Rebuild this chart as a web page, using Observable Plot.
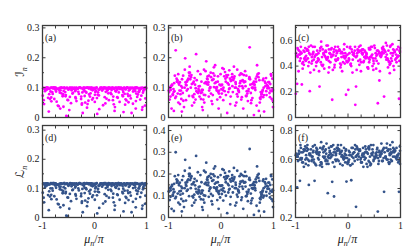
<!DOCTYPE html>
<html><head><meta charset="utf-8">
<script src="https://cdn.jsdelivr.net/npm/d3@7"></script>
<script src="https://cdn.jsdelivr.net/npm/@observablehq/plot@0.6"></script>
<style>
body{margin:0;background:#fff;}
#chart{position:relative;width:415px;height:251px;overflow:hidden;font-family:"Liberation Serif","DejaVu Serif",serif;}
#chart svg{position:absolute;left:0;top:0;overflow:visible;background:transparent;}
#chart svg text{font-family:"Liberation Serif","Times New Roman",serif;}
#chart svg text .script{font-family:"DejaVu Serif","DejaVu Sans",serif;}
</style></head><body><div id="chart"></div>
<script>
// ---- data: mu_n/pi (shared) and I_n (top row), L_n (bottom row) ----
const muN = [-0.988,-0.857,-0.933,-0.812,-0.969,-0.898,-0.841,-0.995,-0.916,-0.879,-0.824,-0.952,-0.863,-0.978,-0.906,-0.804,-0.941,-0.887,-0.832,-0.961,
-0.693,-0.782,-0.637,-0.728,-0.669,-0.756,-0.611,-0.791,-0.705,-0.648,-0.739,-0.682,-0.773,-0.623,-0.717,-0.659,-0.764,-0.602,-0.746,-0.675,
-0.542,-0.429,-0.587,-0.474,-0.511,-0.406,-0.563,-0.452,-0.529,-0.494,-0.597,-0.418,-0.551,-0.463,-0.508,-0.576,-0.441,-0.485,-0.533,-0.414,
-0.266,-0.359,-0.213,-0.392,-0.301,-0.244,-0.337,-0.281,-0.372,-0.226,-0.318,-0.255,-0.385,-0.203,-0.347,-0.289,-0.233,-0.324,-0.366,-0.272,
-0.124,-0.038,-0.179,-0.061,-0.103,-0.196,-0.017,-0.144,-0.082,-0.165,-0.029,-0.112,-0.053,-0.189,-0.071,-0.134,-0.008,-0.156,-0.094,-0.045,
0.153,0.027,0.091,0.184,0.062,0.118,0.006,0.139,0.077,0.196,0.043,0.165,0.103,0.016,0.128,0.052,0.176,0.085,0.034,0.147,
0.231,0.317,0.378,0.264,0.342,0.209,0.293,0.361,0.246,0.329,0.393,0.272,0.217,0.354,0.303,0.239,0.386,0.281,0.324,0.256,
0.568,0.447,0.512,0.403,0.589,0.475,0.536,0.424,0.558,0.491,0.459,0.598,0.413,0.527,0.483,0.572,0.438,0.546,0.502,0.467,
0.687,0.614,0.752,0.661,0.793,0.721,0.636,0.774,0.698,0.607,0.739,0.669,0.784,0.627,0.713,0.762,0.649,0.731,0.678,0.796,
0.849,0.932,0.808,0.971,0.893,0.821,0.956,0.867,0.915,0.987,0.836,0.942,0.879,0.99,0.858,0.924,0.813,0.965,0.901,0.983,
-0.972,-0.846,-0.918,-0.893,-0.958,-0.815,-0.871,-0.934,-0.829,-0.902,
-0.784,-0.652,-0.721,-0.608,-0.757,-0.689,-0.633,-0.742,-0.667,-0.798,
-0.571,-0.437,-0.519,-0.482,-0.593,-0.409,-0.556,-0.468,-0.503,-0.425,
-0.348,-0.229,-0.311,-0.382,-0.258,-0.207,-0.294,-0.363,-0.241,-0.327,
-0.168,-0.087,-0.135,-0.012,-0.191,-0.058,-0.117,-0.034,-0.149,-0.076,
0.021,0.112,0.069,0.158,0.047,0.187,0.094,0.134,0.008,0.171,
0.213,0.336,0.278,0.397,0.249,0.352,0.309,0.226,0.371,0.287,
0.418,0.553,0.486,0.593,0.437,0.521,0.462,0.579,0.404,0.541,
0.628,0.757,0.683,0.611,0.742,0.796,0.654,0.718,0.771,0.639,
0.862,0.939,0.817,0.978,0.884,0.951,0.803,0.917,0.99,0.846];
const panelA = [.098,.062,.099,.085,.045,.097,.1,.073,.094,.02,.099,.088,.096,.058,.1,.079,.092,.099,.067,.097,
.096,.1,.081,.053,.099,.094,.071,.098,.04,.1,.087,.097,.062,.099,.095,.03,.099,.078,.1,.09,
.005,.097,.1,.069,.004,.098,.085,.048,.1,.095,.036,.099,.075,.097,.058,.1,.091,.025,.098,.082,
.099,.064,.1,.096,.079,.043,.098,.1,.088,.015,.097,.07,.099,.093,.055,.1,.084,.096,.068,.099,
.1,.091,.05,.098,.077,.1,.095,.033,.099,.086,.065,.097,.1,.072,.094,.045,.099,.083,.1,.06,
.098,.089,.028,.1,.076,.097,.052,.099,.093,.068,.1,.041,.096,.085,.099,.012,.098,.074,.1,.09,
.063,.099,.095,.081,.1,.047,.097,.07,.099,.092,.035,.1,.086,.058,.098,.096,.022,.1,.078,.094,
.099,.066,.1,.089,.043,.097,.075,.099,.018,.095,.1,.061,.087,.098,.052,.1,.093,.071,.097,.084,
.1,.057,.098,.09,.03,.099,.079,.1,.064,.095,.046,.098,.088,.1,.015,.097,.072,.099,.093,.055,
.098,.083,.1,.04,.096,.069,.099,.091,.026,.1,.077,.097,.06,.099,.086,.035,.098,.094,.073,.1,
.099,.087,.1,.066,.096,.1,.078,.098,.054,.095,.1,.091,.097,.074,.099,.038,.1,.094,.083,.098,
.097,.1,.059,.099,.089,.096,.071,.1,.093,.08,.1,.095,.086,.099,.062,.098,.1,.092,.047,.097,
.099,.07,.1,.094,.088,.099,.056,.097,.1,.081,.096,.1,.084,.098,.065,.1,.093,.099,.076,.095,
.1,.097,.058,.099,.09,.1,.082,.096,.044,.098,.099,.085,.1,.094,.068,.097,.1,.079,.099,.092,
.1,.096,.073,.099,.087,.1,.051,.098,.094,.1,.097,.089,.1,.064,.099,.095,.08,.1,.098,.086];
const panelB = [.085,.07,.11,.05,.1,.022,.12,.09,.075,.14,.08,.105,.225,.06,.095,.115,.03,.088,.12,.07,
.1,.045,.125,.082,.11,.062,.15,.09,.035,.12,.1,.198,.078,.13,.056,.108,.09,.14,.02,.118,
.072,.095,.128,.212,.05,.105,.142,.085,.068,.11,.17,.09,.04,.125,.078,.1,.155,.06,.115,.088,
.13,.035,.098,.145,.075,.11,.06,.188,.12,.09,.05,.138,.082,.102,.025,.118,.07,.16,.092,.112,
.14,.08,.055,.12,.1,.15,.068,.128,.09,.045,.11,.175,.085,.135,.06,.102,.145,.075,.118,.03,
.095,.165,.12,.07,.138,.015,.108,.085,.152,.125,.058,.098,.142,.08,.115,.162,.045,.13,.092,.11,
.125,.07,.148,.1,.085,.135,.05,.115,.17,.09,.122,.04,.105,.142,.078,.13,.06,.112,.095,.138,
.082,.12,.055,.145,.1,.072,.13,.03,.11,.088,.155,.065,.125,.095,.14,.048,.118,.235,.08,.105,
.175,.115,.062,.13,.09,.022,.11,.078,.145,.098,.05,.12,.085,.008,.135,.07,.1,.125,.04,.092,
.115,.068,.13,.088,.105,.02,.14,.075,.098,.055,.12,.09,.108,.035,.132,.082,.1,.062,.118,.095,
.1,.13,.078,.115,.092,.145,.065,.108,.125,.085,.118,.09,.14,.072,.105,.16,.095,.128,.058,.11,
.135,.082,.12,.098,.15,.07,.112,.088,.132,.104,.092,.14,.115,.062,.128,.1,.155,.084,.118,.076,
.125,.096,.168,.108,.08,.138,.115,.09,.148,.102,.11,.135,.088,.158,.1,.122,.075,.142,.095,.13,
.145,.09,.118,.068,.132,.105,.16,.085,.122,.1,.098,.128,.072,.112,.142,.088,.12,.058,.105,.135,
.12,.085,.138,.1,.065,.125,.092,.148,.078,.11,.088,.112,.075,.13,.098,.145,.068,.118,.092,.105];
const panelC = [.5,.43,.52,.47,.262,.55,.41,.184,.49,.257,.45,.53,.38,.48,.51,.44,.36,.5,.46,.54,
.42,.52,.47,.205,.55,.4,.49,.45,.56,.37,.5,.44,.53,.48,.35,.51,.46,.43,.55,.49,
.241,.47,.52,.41,.59,.45,.5,.38,.54,.47,.43,.51,.36,.49,.55,.44,.48,.4,.52,.46,
.53,.39,.5,.46,.138,.55,.43,.49,.35,.52,.47,.41,.56,.45,.5,.37,.48,.53,.44,.51,
.47,.177,.52,.42,.5,.45,.55,.39,.48,.53,.44,.36,.5,.46,.57,.41,.49,.52,.43,.47,
.241,.5,.45,.53,.4,.48,.215,.099,.51,.44,.55,.37,.49,.46,.52,.42,.5,.35,.54,.47,
.45,.52,.39,.5,.48,.55,.43,.47,.36,.51,.46,.53,.41,.49,.44,.56,.38,.5,.47,.52,
.111,.48,.54,.43,.51,.46,.38,.53,.49,.42,.55,.288,.45,.5,.37,.52,.47,.44,.56,.4,
.163,.5,.46,.53,.41,.58,.48,.44,.52,.36,.49,.55,.43,.47,.51,.39,.54,.45,.5,.345,
.48,.53,.42,.146,.51,.46,.55,.4,.49,.52,.44,.47,.37,.54,.5,.43,.56,.48,.45,.52,
.48,.52,.44,.5,.47,.54,.42,.49,.51,.46,.53,.45,.49,.4,.52,.47,.55,.43,.5,.48,
.46,.51,.43,.53,.49,.56,.45,.5,.41,.52,.5,.44,.54,.47,.39,.51,.48,.53,.45,.49,
.52,.47,.5,.43,.55,.46,.51,.48,.42,.53,.45,.5,.53,.47,.41,.52,.49,.55,.44,.48,
.51,.46,.49,.54,.43,.5,.47,.52,.39,.53,.47,.52,.44,.5,.55,.46,.49,.42,.53,.48,
.5,.45,.53,.48,.56,.43,.51,.47,.52,.49,.53,.47,.5,.44,.52,.48,.55,.46,.51,.57];
const panelD = [.115,.072,.117,.1,.052,.114,.118,.085,.11,.025,.116,.103,.113,.068,.117,.092,.108,.116,.078,.114,
.113,.118,.095,.062,.116,.11,.083,.115,.047,.117,.102,.114,.073,.116,.112,.035,.116,.091,.117,.106,
.006,.114,.118,.081,.005,.115,.1,.056,.117,.111,.042,.116,.088,.114,.068,.118,.107,.03,.115,.096,
.116,.075,.117,.113,.093,.05,.115,.118,.103,.018,.114,.082,.116,.109,.064,.117,.098,.113,.08,.116,
.117,.107,.058,.115,.09,.118,.111,.039,.116,.101,.076,.114,.117,.084,.11,.053,.116,.097,.117,.07,
.115,.104,.033,.117,.089,.114,.061,.116,.109,.08,.118,.048,.113,.1,.116,.014,.115,.087,.117,.106,
.074,.116,.111,.095,.117,.055,.114,.082,.116,.108,.041,.118,.101,.068,.115,.113,.026,.117,.091,.11,
.116,.077,.117,.104,.05,.114,.088,.116,.021,.111,.118,.071,.102,.115,.061,.117,.109,.083,.114,.098,
.117,.067,.115,.105,.035,.116,.092,.118,.075,.111,.054,.115,.103,.117,.018,.114,.084,.116,.109,.064,
.115,.097,.117,.047,.113,.081,.116,.107,.03,.117,.09,.114,.07,.116,.1,.041,.115,.11,.085,.117,
.117,.1,.116,.077,.113,.118,.09,.115,.063,.112,.118,.106,.114,.086,.117,.045,.116,.11,.097,.115,
.114,.117,.069,.116,.104,.113,.083,.118,.109,.094,.117,.112,.1,.116,.073,.115,.118,.107,.055,.114,
.116,.082,.117,.11,.102,.116,.066,.114,.118,.095,.113,.117,.098,.115,.076,.118,.109,.116,.089,.112,
.118,.114,.068,.116,.105,.117,.096,.113,.052,.115,.116,.099,.117,.11,.079,.114,.118,.092,.116,.108,
.117,.113,.086,.116,.101,.118,.06,.115,.111,.117,.114,.104,.117,.075,.116,.112,.093,.118,.115,.1];
const panelE = [.12,.095,.15,.068,.135,.03,.16,.12,.1,.19,.11,.14,.3,.08,.13,.155,.04,.118,.165,.095,
.135,.06,.17,.11,.15,.085,.2,.12,.048,.162,.135,.265,.105,.175,.075,.145,.122,.19,.028,.16,
.098,.128,.172,.283,.068,.142,.19,.115,.092,.148,.228,.122,.055,.168,.105,.135,.208,.08,.155,.118,
.175,.048,.132,.195,.1,.148,.082,.252,.162,.122,.068,.185,.11,.138,.035,.16,.095,.215,.124,.15,
.19,.108,.075,.162,.135,.2,.092,.172,.122,.06,.148,.235,.115,.182,.08,.138,.195,.1,.16,.04,
.128,.222,.162,.095,.185,.02,.145,.115,.205,.168,.078,.132,.19,.108,.155,.218,.06,.175,.124,.148,
.168,.095,.2,.135,.115,.182,.068,.155,.228,.122,.165,.055,.142,.19,.105,.175,.08,.15,.128,.186,
.11,.162,.075,.195,.135,.098,.175,.04,.148,.118,.21,.088,.168,.128,.19,.065,.16,.315,.108,.142,
.235,.155,.084,.175,.122,.03,.148,.105,.195,.132,.068,.162,.115,.012,.182,.095,.135,.168,.054,.124,
.155,.092,.175,.118,.142,.027,.19,.1,.132,.075,.162,.122,.145,.048,.178,.11,.135,.084,.16,.128,
.135,.175,.105,.155,.125,.195,.088,.145,.17,.115,.16,.122,.19,.098,.142,.215,.128,.172,.078,.148,
.182,.11,.162,.132,.2,.095,.152,.118,.178,.14,.124,.19,.155,.084,.172,.135,.208,.112,.16,.102,
.168,.13,.225,.145,.108,.185,.155,.122,.198,.138,.148,.182,.118,.212,.135,.165,.1,.19,.128,.175,
.195,.122,.16,.092,.178,.142,.215,.115,.165,.135,.132,.172,.098,.15,.19,.118,.162,.078,.142,.182,
.162,.115,.185,.135,.088,.168,.125,.2,.105,.148,.118,.15,.1,.175,.132,.195,.092,.16,.125,.142];
const panelF = [.64,.58,.66,.6,.407,.68,.55,.63,.453,.61,.67,.59,.65,.62,.7,.57,.64,.6,.66,.62,
.59,.66,.453,.63,.69,.56,.65,.61,.67,.58,.64,.6,.7,.57,.63,.66,.6,.68,.425,.62,
.65,.59,.67,.62,.72,.57,.64,.61,.68,.55,.66,.6,.63,.69,.58,.65,.62,.67,.56,.64,
.345,.63,.68,.59,.446,.65,.61,.7,.57,.64,.62,.67,.368,.6,.66,.58,.63,.69,.61,.65,
.62,.67,.59,.64,.56,.68,.61,.65,.6,.66,.448,.63,.58,.67,.62,.7,.57,.64,.61,.66,
.274,.63,.68,.6,.457,.65,.58,.67,.62,.64,.56,.69,.61,.66,.59,.63,.68,.57,.65,.62,
.66,.6,.64,.58,.67,.62,.55,.65,.61,.69,.59,.63,.66,.57,.64,.6,.68,.62,.65,.58,
.241,.64,.61,.67,.59,.65,.62,.56,.68,.6,.63,.66,.58,.64,.7,.61,.57,.65,.62,.67,
.377,.62,.66,.59,.64,.61,.71,.58,.65,.63,.6,.67,.57,.64,.62,.66,.59,.68,.61,.63,
.65,.6,.67,.377,.62,.64,.58,.66,.61,.69,.59,.63,.65,.57,.62,.68,.6,.64,.66,.61,
.63,.67,.6,.65,.62,.69,.58,.64,.66,.61,.68,.6,.64,.56,.67,.62,.7,.59,.65,.63,
.61,.66,.58,.68,.64,.71,.6,.65,.57,.67,.65,.59,.69,.62,.55,.66,.63,.68,.6,.64,
.67,.62,.65,.58,.7,.61,.66,.63,.57,.68,.6,.65,.68,.62,.56,.67,.64,.7,.59,.63,
.66,.61,.64,.69,.58,.65,.62,.67,.55,.68,.62,.67,.59,.65,.7,.61,.64,.57,.68,.63,
.65,.6,.68,.63,.71,.58,.66,.62,.67,.64,.68,.62,.65,.59,.67,.63,.7,.61,.66,.72];

const panelNames = ["(a)","(b)","(c)","(d)","(e)","(f)"];
const xTickLabels = [-1, 0, 1];
const xTickMarks = [-0.75,-0.5,-0.25,0.25,0.5,0.75];
const yLabelsA = [0,0.1,0.2,0.3], yLabelsB = [0,0.1,0.2,0.3], yLabelsC = [0,0.2,0.4,0.6];
const yLabelsD = [0,0.1,0.2,0.3], yLabelsE = [0,0.1,0.2,0.3,0.4], yLabelsF = [0.2,0.4,0.6,0.8];
const yMinorA = [0.05,0.15,0.25], yMinorB = [0.05,0.15,0.25], yMinorC = [0.1,0.3,0.5,0.7];
const yMinorD = [0.05,0.15,0.25], yMinorE = [0.05,0.15,0.25,0.35], yMinorF = [0.3,0.5,0.7];
const yDomains = [[0,0.308],[0,0.308],[0,0.716],[0,0.316],[0,0.423],[0.2,0.835]];

// ---- layout ----
const W = 415, H = 251;
const colL = [42,168,295], colR = [146,273,400];
const rowT = [25,125], rowB = [117,217];
const magenta = "#ff00ff", navy = "#34538a", frameColor = "#3c3c3c";
const serif = "'Liberation Serif','Times New Roman',serif";

const series = [panelA,panelB,panelC,panelD,panelE,panelF];
const yLabels = [yLabelsA,yLabelsB,yLabelsC,yLabelsD,yLabelsE,yLabelsF];
const yMinor = [yMinorA,yMinorB,yMinorC,yMinorD,yMinorE,yMinorF];
const fmt = d => d === 0 ? "0" : (d < 0 ? "-" : "") + String(Math.abs(d));

const chart = document.getElementById("chart");
series.forEach((vals, p) => {
  const row = Math.floor(p / 3), col = p % 3;
  const rows = vals.map((v, i) => ({mu: muN[i], v}));
  const color = row === 0 ? magenta : navy;
  const marks = [
    Plot.dot(rows, {x: "mu", y: "v", r: 1.4, fill: color, stroke: null}),
    Plot.axisX({anchor: "bottom", ticks: xTickLabels, tickSize: -3.5, tickFormat: () => "", label: null, stroke: frameColor}),
    Plot.axisX({anchor: "bottom", ticks: xTickMarks, tickSize: -2.5, tickFormat: () => "", label: null, stroke: frameColor}),
    Plot.axisX({anchor: "top", ticks: xTickLabels, tickSize: -3.5, tickFormat: () => "", label: null, stroke: frameColor}),
    Plot.axisX({anchor: "top", ticks: xTickMarks, tickSize: -2.5, tickFormat: () => "", label: null, stroke: frameColor}),
    Plot.axisY({anchor: "left", ticks: yLabels[p], tickSize: -3.5, tickFormat: () => "", label: null, stroke: frameColor}),
    Plot.axisY({anchor: "left", ticks: yMinor[p], tickSize: -2, tickFormat: () => "", label: null, stroke: frameColor}),
    Plot.axisY({anchor: "right", ticks: yLabels[p], tickSize: -3.5, tickFormat: () => "", label: null, stroke: frameColor}),
    Plot.axisY({anchor: "right", ticks: yMinor[p], tickSize: -2, tickFormat: () => "", label: null, stroke: frameColor}),
    Plot.axisY({anchor: "left", ticks: yLabels[p], tickSize: 0, tickPadding: 3, tickFormat: fmt, label: null, fontSize: 10, fill: "#222", fontFamily: serif}),
    Plot.frame({stroke: frameColor, strokeWidth: 1.3}),
    Plot.text([panelNames[p]], {text: d => d, frameAnchor: "top-left", dx: 2.5, dy: 8, fontSize: 10, fill: "#222", fontFamily: serif})
  ];
  if (row === 1) {
    marks.push(Plot.axisX({anchor: "bottom", ticks: xTickLabels, tickSize: 0, tickPadding: 4, tickFormat: fmt, label: null, fontSize: 10, fill: "#222", fontFamily: serif}));
  }
  const plot = Plot.plot({
    width: W, height: H,
    marginLeft: colL[col], marginRight: W - colR[col],
    marginTop: rowT[row], marginBottom: H - rowB[row],
    x: {domain: [-1, 1]},
    y: {domain: yDomains[p]},
    style: {background: "transparent", fontFamily: serif, fontSize: "10px"},
    marks
  });
  chart.appendChild(plot);
});

// ---- axis titles ----
const svg = d3.select(chart).append("svg").attr("width", W).attr("height", H)
  .style("font-family", serif);
function ylab(x, y, main) {
  const t = svg.append("text").attr("transform", `translate(${x},${y}) rotate(-90)`)
    .attr("text-anchor", "middle").attr("font-size", 12).attr("fill", "#222");
  t.append("tspan").attr("class", "script").attr("font-style", "italic").text(main);
  t.append("tspan").attr("font-size", 8).attr("dy", 3).attr("font-style", "italic").text("n");
}
ylab(24, 72, "ℐ");
ylab(24, 172, "ℒ");
colL.forEach((l, i) => {
  const cx = (l + colR[i]) / 2;
  const t = svg.append("text").attr("x", cx).attr("y", 243).attr("text-anchor", "middle")
    .attr("font-size", 12).attr("fill", "#222");
  t.append("tspan").attr("font-style", "italic").text("μ");
  t.append("tspan").attr("font-size", 8).attr("dy", 3).attr("font-style", "italic").text("n");
  t.append("tspan").attr("dy", -3).text("/");
  t.append("tspan").attr("font-style", "italic").text("π");
});
</script></body></html>
